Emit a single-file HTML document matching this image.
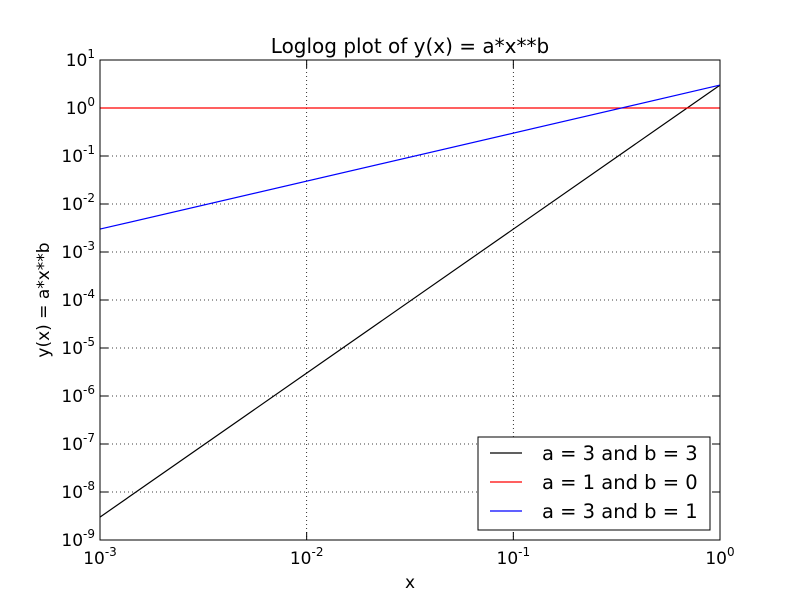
<!DOCTYPE html>
<html><head><meta charset="utf-8"><style>
html,body{margin:0;padding:0;background:#fff;width:800px;height:600px;overflow:hidden;}
svg{font-family:"DejaVu Sans","Liberation Sans",sans-serif;display:block;}
</style></head><body>
<svg id="c" width="800" height="600"></svg>
<script>
const xDecades=[-3,-2,-1,0];
const yDecades=[-9,-8,-7,-6,-5,-4,-3,-2,-1,0,1];
const seriesA=[3,1,3];
const seriesB=[3,0,1];
const seriesLabels=['a = 3 and b = 3','a = 1 and b = 0','a = 3 and b = 1'];
const seriesColors=['#000','#f00','#00f'];
const xRange=[0.001,1];

const L=100,R=720,T=60,B=540;
const sx=v=>L+(Math.log10(v)+3)/3*(R-L);
const sy=v=>B-(Math.log10(v)+9)/10*(B-T);
const svg=document.getElementById('c');
const NS='http://www.w3.org/2000/svg';
function mk(tag,attrs,parent){const e=document.createElementNS(NS,tag);for(const k in attrs)e.setAttribute(k,attrs[k]);(parent||svg).appendChild(e);return e;}

xDecades.forEach(d=>{const x=sx(Math.pow(10,d));
 const g=mk('line',{x1:x,x2:x,y1:T,y2:B,stroke:'#000','stroke-dasharray':'1,3','stroke-width':0.8});
 
 
 mk('line',{x1:x,x2:x,y1:B,y2:B-8,stroke:'#000'});
 mk('line',{x1:x,x2:x,y1:T,y2:T+8,stroke:'#000'});
 const lab=mk('text',{x:x,y:B+24,'font-size':17,'text-anchor':'middle'});
 
 
 lab.innerHTML='10<tspan dy="-8" font-size="12">'+d+'</tspan>';
});
yDecades.forEach(d=>{const y=sy(Math.pow(10,d));
 const g=mk('line',{x1:L,x2:R,y1:y,y2:y,stroke:'#000','stroke-dasharray':'1,3','stroke-width':0.8});
 
 
 mk('line',{x1:L,x2:L+8,y1:y,y2:y,stroke:'#000'});
 mk('line',{x1:R,x2:R-8,y1:y,y2:y,stroke:'#000'});
 const lab=mk('text',{x:L-5,y:y+6,'font-size':17,'text-anchor':'end'});
 
 
 lab.innerHTML='10<tspan dy="-8" font-size="12">'+d+'</tspan>';
});
seriesA.forEach((a,i)=>{const b=seriesB[i];
 const pts=xRange.map(x=>sx(x)+','+sy(a*Math.pow(x,b))).join(' ');
 const p=mk('polyline',{points:pts,fill:'none',stroke:seriesColors[i],'stroke-width':1.2});
 
 
});
const fr=mk('rect',{x:L,y:T,width:R-L,height:B-T,fill:'none',stroke:'#000'});


const lg=mk('g',{});


mk('rect',{x:478,y:437,width:232,height:93,fill:'#fff',stroke:'#000'},lg);
seriesLabels.forEach((s,i)=>{const y=453+i*29;
 mk('line',{x1:490,x2:522,y1:y,y2:y,stroke:seriesColors[i],'stroke-width':1.2},lg);
 const t=mk('text',{x:542,y:y+7,'font-size':19.5},lg);
 
 
 t.textContent=s;
});
const title=mk('text',{x:410,y:53,'font-size':20,'text-anchor':'middle'});


title.textContent='Loglog plot of y(x) = a*x**b';
const xt=mk('text',{x:410,y:588,'font-size':17,'text-anchor':'middle'});


xt.textContent='x';
const yt=mk('text',{x:0,y:0,'font-size':17,'text-anchor':'middle',transform:'translate(49,300) rotate(-90)'});


yt.textContent='y(x) = a*x**b';
</script>
</body></html>
